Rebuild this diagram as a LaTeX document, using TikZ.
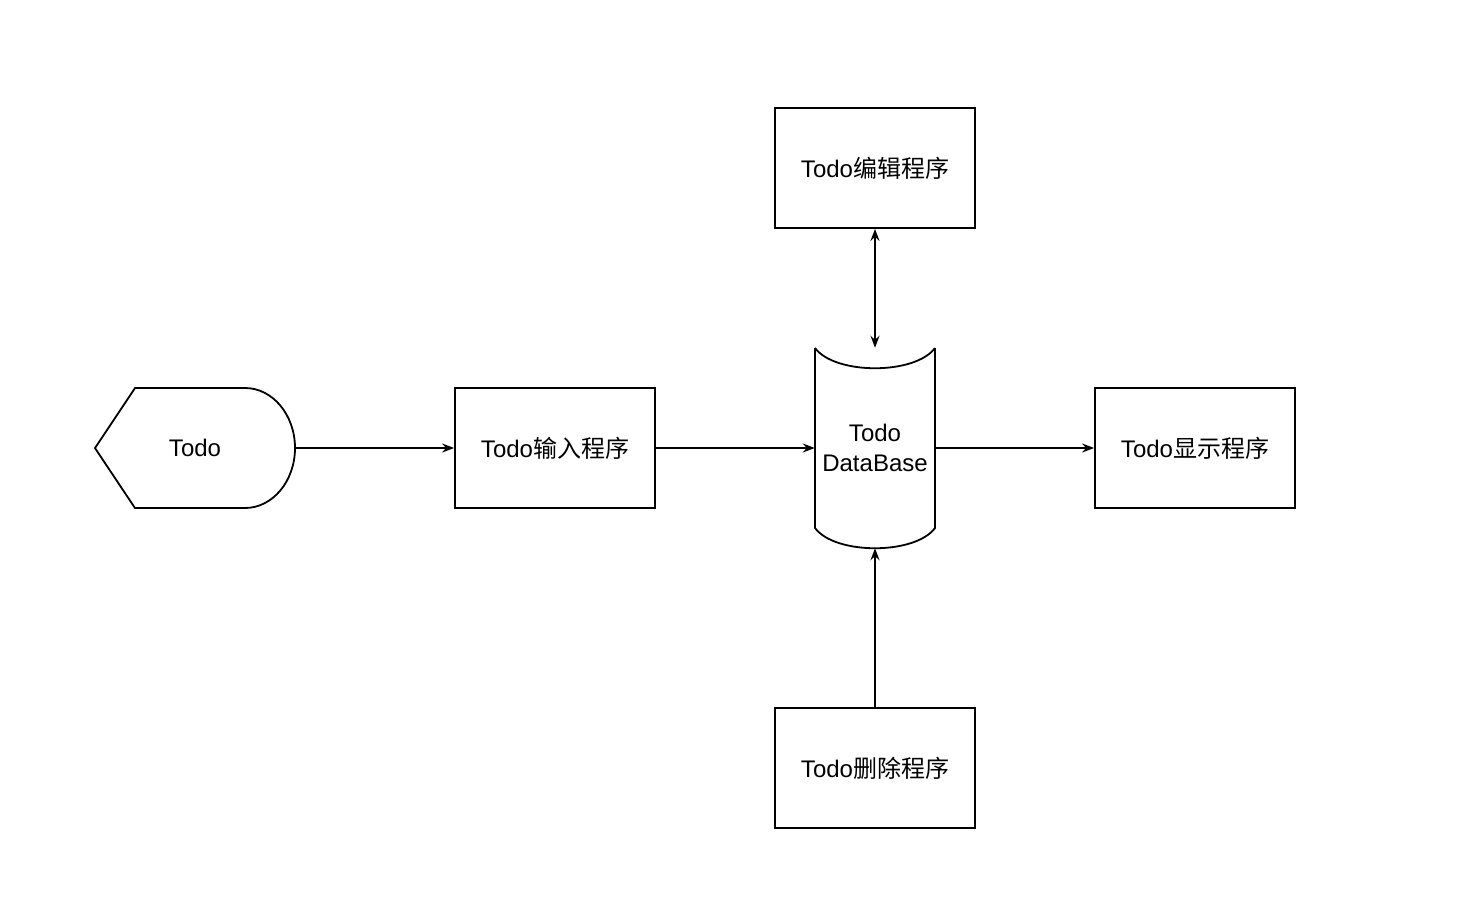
\documentclass[tikz,border=0pt]{standalone}
\usepackage{fontspec}
\setmainfont{Liberation Sans}
\newfontfamily\cjk{Noto Sans CJK SC}
\usetikzlibrary{arrows.meta}
\begin{document}
\begin{tikzpicture}[x=1pt,y=-1pt,
  every node/.style={font=\fontsize{24}{30}\selectfont},
  procbox/.style={draw,line width=1.8pt,minimum width=200pt,minimum height=120pt,inner sep=0pt},
  conn/.style={line width=1.8pt,-{Stealth[length=12pt,width=9pt,inset=4pt]}},
  biconn/.style={line width=1.8pt,{Stealth[length=12pt,width=9pt,inset=4pt]}-{Stealth[length=12pt,width=9pt,inset=4pt]}},
  shapeline/.style={line width=1.8pt,line join=miter}]
\useasboundingbox[fill=white] (0,0) rectangle (1458,923);
% display shape
\node[minimum width=200pt,minimum height=120pt,inner sep=0pt] (todo) at (195,448) {Todo};
\draw[shapeline] (95,448) -- (135,388) -- (245,388) arc[start angle=90,end angle=-90,x radius=50,y radius=-60] -- (135,508) -- cycle;
% boxes
\node[procbox] (input) at (555,448) {Todo{\cjk 输入程序}};
\node[procbox] (edit) at (875,168) {Todo{\cjk 编辑程序}};
\node[procbox] (show) at (1195,448) {Todo{\cjk 显示程序}};
\node[procbox] (del) at (875,768) {Todo{\cjk 删除程序}};
% database
\node[minimum width=120pt,minimum height=200pt,inner sep=0pt,align=center] (db) at (875,448) {Todo\\DataBase};
\draw[shapeline] (815,348) .. controls (835,375) and (915,375) .. (935,348);
\draw[shapeline] (815,348) -- (815,528) .. controls (835,555) and (915,555) .. (935,528) -- (935,348);
% connectors
\draw[conn] (todo.east) -- (input.west);
\draw[conn] (input.east) -- (db.west);
\draw[conn] (db.east) -- (show.west);
\draw[biconn] (edit.south) -- (db.north);
\draw[conn] (del.north) -- (db.south);
\end{tikzpicture}
\end{document}
